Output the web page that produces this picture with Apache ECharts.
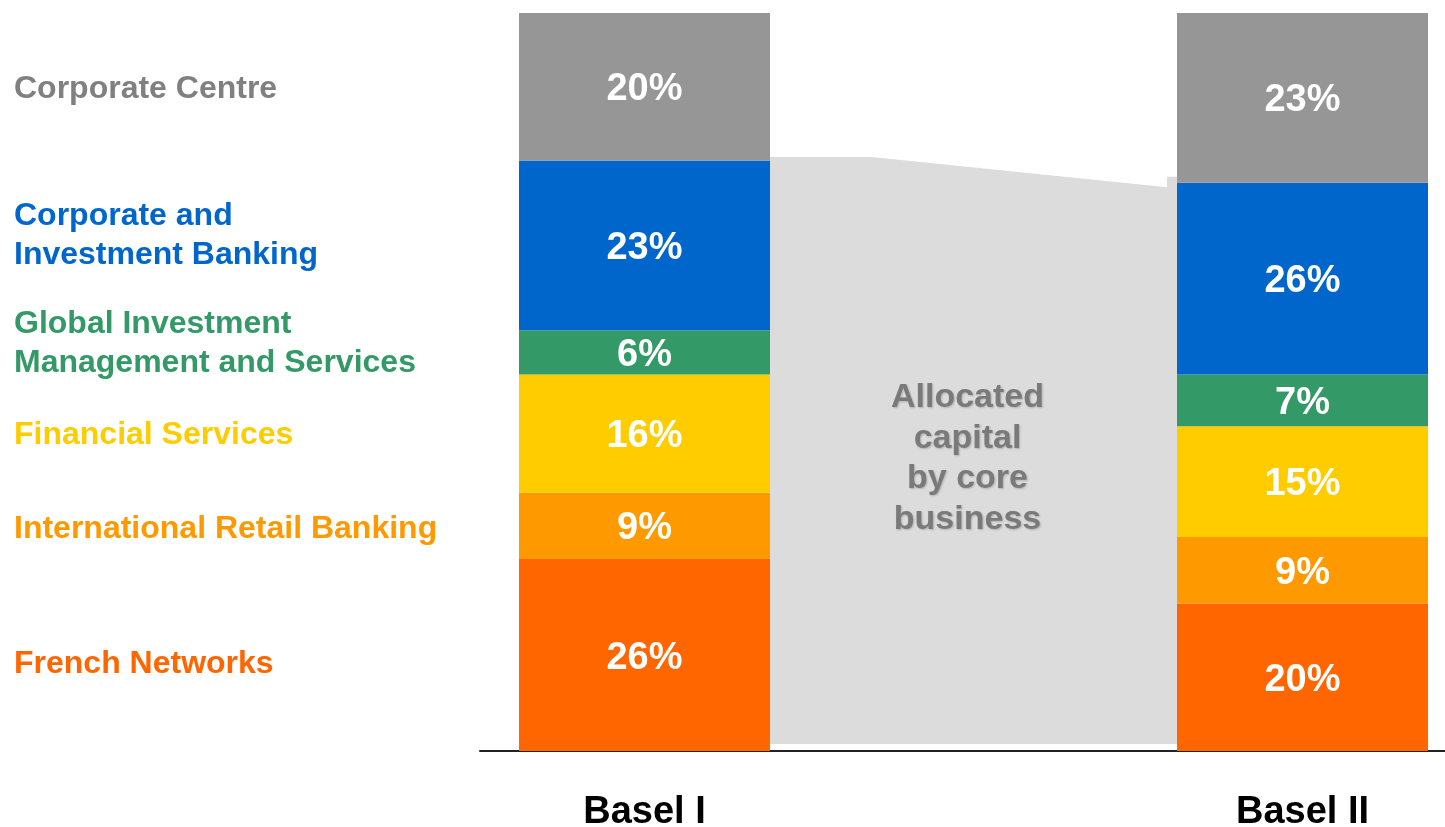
<!DOCTYPE html>
<html>
<head>
<meta charset="utf-8">
<script src="https://cdn.jsdelivr.net/npm/echarts@6/dist/echarts.min.js"></script>
<style>
  html, body { margin: 0; padding: 0; background: #fff; }
</style>
</head>
<body>
<div id="capital-chart" style="width: 1445px; height: 827px;"></div>
<script>
// categories (middle one is the gap holding the connector)
const categories = ['Basel I', '', 'Basel II'];

// allocated capital share by business, bottom to top
const frenchNetworks = [26, '-', 20];
const internationalRetail = [9, '-', 9];
const financialServices = [16, '-', 15];
const globalInvestment = [6, '-', 7];
const corporateInvestment = [23, '-', 26];
const corporateCentre = [20, '-', 23];

// grey connector between the bars (in % of the value axis)
const connectorTop = [80.5, 76.4];
const connectorStep = 77.8;
const connectorBottom = 0.95;

const font = 'Liberation Sans, Arial, sans-serif';
const barWidth = 251;

const chart = echarts.init(document.getElementById('capital-chart'));

function barSeries(name, data, color) {
  return {
    name: name,
    type: 'bar',
    stack: 'total',
    barWidth: barWidth,
    data: data,
    itemStyle: { color: color },
    label: {
      show: true,
      formatter: '{c}%',
      color: '#fff',
      fontSize: 38,
      fontWeight: 'bold',
      fontFamily: font,
      offset: [0, 3]
    },
    emphasis: { disabled: true }
  };
}

function sideLabel(text, top, color) {
  return {
    type: 'text',
    left: 14,
    top: top,
    style: {
      text: text,
      fill: color,
      font: 'bold 32px ' + font,
      lineHeight: 39
    }
  };
}

let option = {
  animation: false,
  grid: {
    left: 480,
    right: -22,
    top: 13,
    bottom: 76,
    containLabel: false,
    outerBoundsMode: 'none'
  },
  xAxis: {
    type: 'category',
    data: categories,
    axisTick: { show: false },
    axisLine: {
      lineStyle: { color: '#222', width: 2 }
    },
    axisLabel: {
      color: '#000',
      fontSize: 38,
      fontWeight: 'bold',
      fontFamily: font,
      margin: 43
    }
  },
  yAxis: {
    type: 'value',
    min: 0,
    max: 100,
    show: false
  },
  graphic: [
    sideLabel('Corporate Centre', 70, '#808080'),
    sideLabel('Corporate and\nInvestment Banking', 197, '#0066CC'),
    sideLabel('Global Investment\nManagement and Services', 305, '#339966'),
    sideLabel('Financial Services', 416, '#FFCC00'),
    sideLabel('International Retail Banking', 510, '#FF9900'),
    sideLabel('French Networks', 645, '#FF6600')
  ],
  series: [
    {
      type: 'custom',
      data: [[connectorTop[0], connectorTop[1], connectorStep, connectorBottom]],
      silent: true,
      z: 1,
      renderItem: function (params, api) {
        const half = barWidth / 2;
        const a = api.coord([0, api.value(0)]);
        const b = api.coord([2, api.value(1)]);
        const s = api.coord([2, api.value(2)]);
        const bottom = api.coord([0, api.value(3)])[1];
        const x1 = a[0] + half;
        const x2 = b[0] - half;
        const mid = api.coord([1, 40]);
        return {
          type: 'group',
          children: [
            {
              type: 'polygon',
              shape: {
                points: [
                  [x1, a[1]],
                  [x1 + (x2 - x1) * 0.25, a[1]],
                  [x2 - 10, b[1]],
                  [x2 - 10, s[1]],
                  [x2, s[1]],
                  [x2, bottom],
                  [x1, bottom]
                ]
              },
              style: { fill: '#DCDCDC' }
            },
            {
              type: 'text',
              x: mid[0] - 6,
              y: mid[1] + 3,
              style: {
                text: 'Allocated\ncapital\nby core\nbusiness',
                fill: '#7A7A7A',
                font: 'bold 34px ' + font,
                lineHeight: 40.5,
                align: 'center',
                verticalAlign: 'middle',
                textShadowColor: 'rgba(0,0,0,0.2)',
                textShadowBlur: 2,
                textShadowOffsetX: 1,
                textShadowOffsetY: 1
              }
            }
          ]
        };
      }
    },
    barSeries('French Networks', frenchNetworks, '#FF6600'),
    barSeries('International Retail Banking', internationalRetail, '#FF9900'),
    barSeries('Financial Services', financialServices, '#FFCC00'),
    barSeries('Global Investment Management and Services', globalInvestment, '#339966'),
    barSeries('Corporate and Investment Banking', corporateInvestment, '#0066CC'),
    barSeries('Corporate Centre', corporateCentre, '#969696')
  ]
};

chart.setOption(option);
</script>
</body>
</html>
